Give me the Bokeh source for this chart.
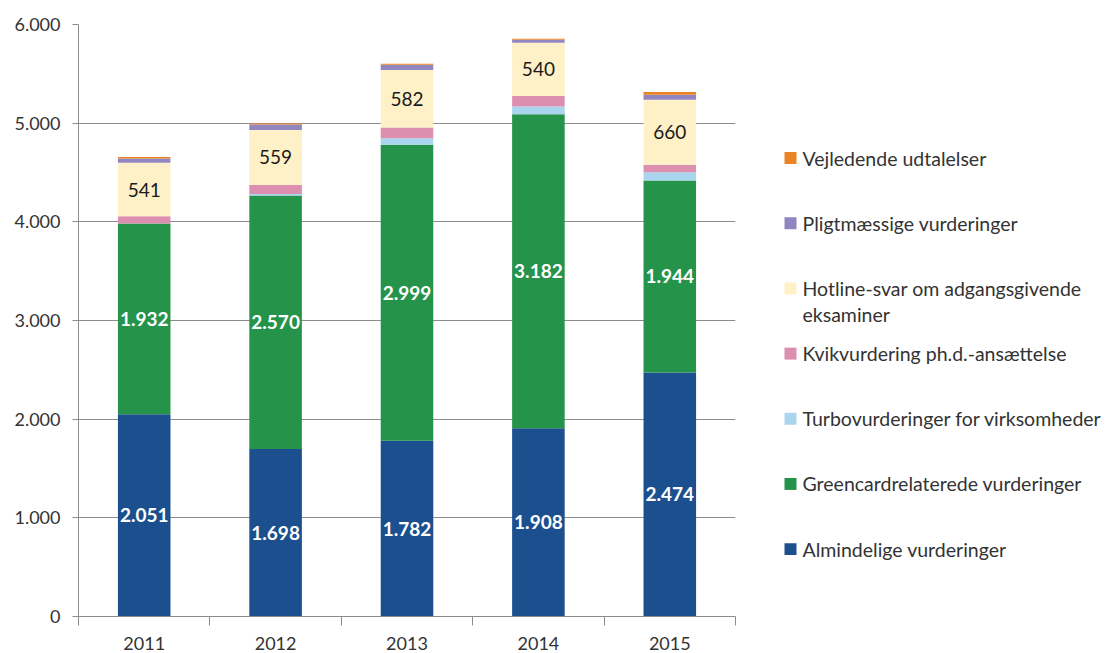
from bokeh.plotting import figure
from bokeh.layouts import row
from bokeh.models import ColumnDataSource, Range1d, FixedTicker
from bokeh.core.properties import value
from bokeh.embed import file_html
from bokeh.resources import INLINE

years = ["2011", "2012", "2013", "2014", "2015"]
almindelige = [2051, 1698, 1782, 1908, 2474]
greencard = [1932, 2570, 2999, 3182, 1944]
turbo = [0, 15, 65, 80, 85]
kvik = [74, 90, 110, 105, 75]
hotline = [541, 559, 582, 540, 660]
pligt = [45, 55, 55, 30, 50]
vejledende = [15, 10, 8, 10, 27]

series_names = [
    "Almindelige vurderinger",
    "Greencardrelaterede vurderinger",
    "Turbovurderinger for virksomheder",
    "Kvikvurdering ph.d.-ansættelse",
    "Hotline-svar om adgangsgivende\neksaminer",
    "Pligtmæssige vurderinger",
    "Vejledende udtalelser",
]
colors = ["#1C4F8E", "#25934A", "#A9D5EE", "#DC8FAF", "#FEF0C7", "#9286C1", "#EA8424"]
y_ticks = [0, 1000, 2000, 3000, 4000, 5000, 6000]
y_tick_labels = ["0", "1.000", "2.000", "3.000", "4.000", "5.000", "6.000"]

FONT = "Lato"
TXT = "#333333"
H = 652
TOP = 24
BOTTOM_BORDER = 34
FRAME_BOTTOM = H - BOTTOM_BORDER

def fmt(v):
    return f"{v:,}".replace(",", ".")

series = [almindelige, greencard, turbo, kvik, hotline, pligt, vejledende]
keys = [f"s{i}" for i in range(len(series))]
xs = [i + 0.5 for i in range(len(years))]
data = {"x": xs}
for k, s in zip(keys, series):
    data[k] = s
src = ColumnDataSource(data)

p = figure(width=753, height=H, output_backend="svg", toolbar_location=None,
           x_range=Range1d(0, len(years)), y_range=Range1d(0, 6000),
           min_border_left=78, min_border_right=18, min_border_top=TOP,
           min_border_bottom=BOTTOM_BORDER)
p.outline_line_color = None
p.background_fill_color = "white"
p.vbar_stack(keys, x="x", width=0.4, color=colors, source=src, line_color=None)

def seg_labels(idx, color, bold):
    bottoms = [sum(series[j][i] for j in range(idx)) for i in range(len(years))]
    ys = [b + v / 2 for b, v in zip(bottoms, series[idx])]
    lab = ColumnDataSource(dict(x=xs, y=ys, t=[fmt(v) for v in series[idx]]))
    p.text(x="x", y="y", text="t", source=lab, text_align="center", text_baseline="middle",
           text_color=color, text_font=value(FONT), text_font_size="19px",
           text_font_style="bold" if bold else "normal")

seg_labels(0, "white", True)
seg_labels(1, "white", True)
seg_labels(4, "#1a1a1a", False)

p.xgrid.grid_line_color = None
p.ygrid.grid_line_color = "#8C8C8C"
p.ygrid.ticker = FixedTicker(ticks=y_ticks)
p.yaxis.ticker = FixedTicker(ticks=y_ticks)
p.yaxis.major_label_overrides = {t: l for t, l in zip(y_ticks, y_tick_labels)}
p.yaxis.axis_line_color = "#8C8C8C"
p.yaxis.major_tick_line_color = "#8C8C8C"
p.yaxis.major_tick_out = 6
p.yaxis.major_tick_in = 0
p.yaxis.minor_tick_line_color = None
p.yaxis.major_label_standoff = 12
p.yaxis.major_label_text_font = FONT
p.yaxis.major_label_text_font_size = "18px"
p.yaxis.major_label_text_color = TXT

p.xaxis.ticker = FixedTicker(ticks=xs, minor_ticks=list(range(len(years) + 1)))
p.xaxis.major_label_overrides = {x: y for x, y in zip(xs, years)}
p.xaxis.axis_line_color = "#8C8C8C"
p.xaxis.major_tick_line_color = None
p.xaxis.major_tick_out = 0
p.xaxis.major_tick_in = 0
p.xaxis.minor_tick_line_color = "#8C8C8C"
p.xaxis.minor_tick_out = 9
p.xaxis.minor_tick_in = 0
p.xaxis.major_label_standoff = 11
p.xaxis.major_label_text_font = FONT
p.xaxis.major_label_text_font_size = "18px"
p.xaxis.major_label_text_color = TXT

# legend panel: its frame is aligned with the main frame by the row layout,
# so use screen-pixel coordinates for the y range
LW = 355
lg = figure(width=LW, height=H, output_backend="svg", toolbar_location=None,
            x_range=Range1d(0, LW), y_range=Range1d(FRAME_BOTTOM, TOP),
            min_border_left=0, min_border_right=0, min_border_top=TOP,
            min_border_bottom=BOTTOM_BORDER)
lg.outline_line_color = None
lg.axis.visible = False
lg.grid.visible = False
order = list(range(len(series_names)))[::-1]
step = 65.4
y0 = 158
ly = [y0 + i * step for i in range(len(order))]
lcol = [colors[i] for i in order]
lname = [series_names[i] for i in order]
lg.rect(x=[37] * len(order), y=ly, width=12, height=12, color=lcol, line_color=None)
for yy, nm in zip(ly, lname):
    lines = nm.split("\n")
    lg.text(x=[49] * len(lines), y=[yy + k * 26 for k in range(len(lines))], text=lines,
            text_align="left", text_baseline="middle", text_color=TXT,
            text_font=value(FONT), text_font_size="19.5px")

layout = row(p, lg, spacing=0)
open("out.html", "w").write(file_html(layout, INLINE))
